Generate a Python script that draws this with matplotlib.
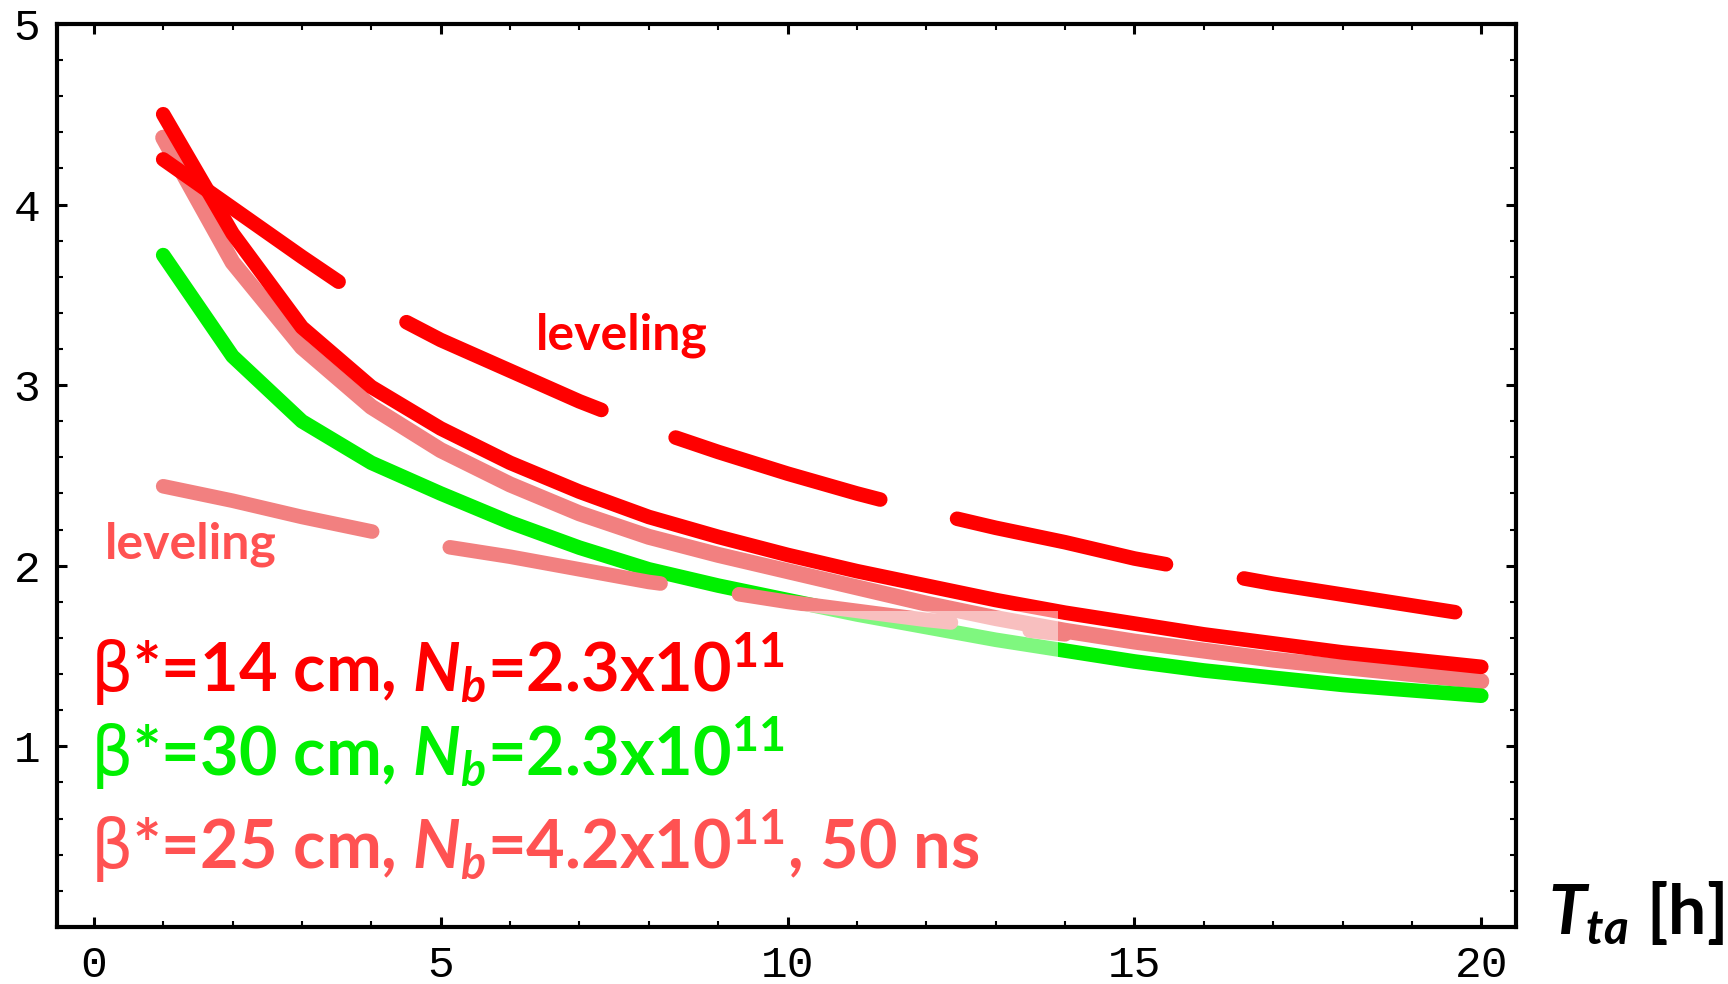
import matplotlib
matplotlib.use("Agg")
import matplotlib.pyplot as plt
from matplotlib.patches import Rectangle
from matplotlib.ticker import MultipleLocator

# ---- data ----
hours = list(range(1, 21))
lumi_14cm = [4.50, 3.84, 3.32, 2.99, 2.76, 2.57, 2.41, 2.27, 2.16, 2.06,
             1.97, 1.89, 1.81, 1.74, 1.68, 1.62, 1.57, 1.52, 1.48, 1.44]
lumi_25cm = [4.37, 3.68, 3.21, 2.88, 2.64, 2.45, 2.29, 2.16, 2.06, 1.97,
             1.88, 1.79, 1.71, 1.64, 1.58, 1.53, 1.48, 1.44, 1.40, 1.36]
lumi_30cm = [3.72, 3.16, 2.80, 2.57, 2.40, 2.24, 2.10, 1.98, 1.89, 1.81,
             1.73, 1.66, 1.59, 1.53, 1.47, 1.42, 1.38, 1.34, 1.31, 1.28]

lev_hours_14 = list(range(1, 21))
lev_14cm = [4.25, 3.98, 3.71, 3.45, 3.25, 3.08, 2.91, 2.76, 2.63, 2.51,
            2.40, 2.30, 2.21, 2.13, 2.04, 1.97, 1.90, 1.84, 1.78, 1.72]
lev_hours_25 = list(range(1, 15))
lev_25cm = [2.44, 2.36, 2.27, 2.19, 2.11, 2.05, 1.98, 1.91, 1.86, 1.80,
            1.75, 1.70, 1.66, 1.62]

x_ticks = [0, 5, 10, 15, 20]
y_ticks = [1, 2, 3, 4, 5]

labels = [r'$\mathsf{\beta}$*=14 cm, $N_b$=2.3x$10^{11}$',
          r'$\mathsf{\beta}$*=30 cm, $N_b$=2.3x$10^{11}$',
          r'$\mathsf{\beta}$*=25 cm, $N_b$=4.2x$10^{11}$, 50 ns']

RED = '#FF0000'
GREEN = '#00F000'
PINK = '#F28080'
PINK_TXT = '#FF5252'

plt.rcParams['mathtext.fontset'] = 'custom'
plt.rcParams['mathtext.rm'] = 'Lato:bold'
plt.rcParams['mathtext.it'] = 'Lato:italic:bold'
plt.rcParams['mathtext.bf'] = 'Lato:bold'
plt.rcParams['mathtext.sf'] = 'DejaVu Sans'
plt.rcParams['lines.scale_dashes'] = False

fig = plt.figure(figsize=(17.28, 9.84), dpi=100)
ax = fig.add_axes([0.033, 0.058, 0.8443, 0.9177])

dash = (0, (154, 57))
lw = 10.5

ax.plot(hours, lumi_25cm, color=PINK, lw=11.5, solid_capstyle='round',
        solid_joinstyle='round', zorder=2)
ax.plot(hours, lumi_14cm, color=RED, lw=lw, solid_capstyle='round',
        solid_joinstyle='round', zorder=3)
ax.plot(hours, lumi_30cm, color=GREEN, lw=lw, solid_capstyle='round',
        solid_joinstyle='round', zorder=4)
ax.plot(lev_hours_25, lev_25cm, color=PINK, lw=lw, linestyle=dash,
        dash_capstyle='round', zorder=5)
ax.plot(lev_hours_14, lev_14cm, color=RED, lw=lw, linestyle=dash,
        dash_capstyle='round', zorder=6)

# washed-out patch present in the source image
ax.add_patch(Rectangle((9.74, 1.49), 4.16, 0.26, facecolor='white',
                       edgecolor='none', alpha=0.5, zorder=7))

ax.set_xlim(-0.53, 20.5)
ax.set_ylim(0, 5)
ax.set_xticks(x_ticks)
ax.set_yticks(y_ticks)
ax.xaxis.set_minor_locator(MultipleLocator(1))
ax.yaxis.set_minor_locator(MultipleLocator(0.2))
ax.tick_params(which='both', direction='in', top=True, right=True)
ax.tick_params(which='major', length=7.5, width=2.2, labelsize=32)
ax.tick_params(which='minor', length=4.5, width=1.5)
ax.tick_params(axis='x', pad=13)
ax.tick_params(axis='y', pad=12)
for lab in ax.get_xticklabels() + ax.get_yticklabels():
    lab.set_family('Liberation Mono')
for sp in ax.spines.values():
    sp.set_linewidth(3.0)

txt_kw = dict(family='Lato', weight='bold', va='baseline', ha='left')
ax.text(-0.05, 1.30, labels[0], color=RED, fontsize=48, zorder=8, **txt_kw)
ax.text(-0.05, 0.835, labels[1], color=GREEN, fontsize=48, zorder=8, **txt_kw)
ax.text(-0.05, 0.32, labels[2], color=PINK_TXT, fontsize=48, zorder=8, **txt_kw)

ax.text(6.37, 3.195, 'leveling', color=RED, fontsize=36, **txt_kw)
ax.text(0.16, 2.04, 'leveling', color=PINK_TXT, fontsize=36, **txt_kw)

ax.text(1.022, -0.008, r'$T_{ta}$ [h]', transform=ax.transAxes,
        color='black', fontsize=49, clip_on=False, **txt_kw)

fig.savefig('out.png', dpi=100)
